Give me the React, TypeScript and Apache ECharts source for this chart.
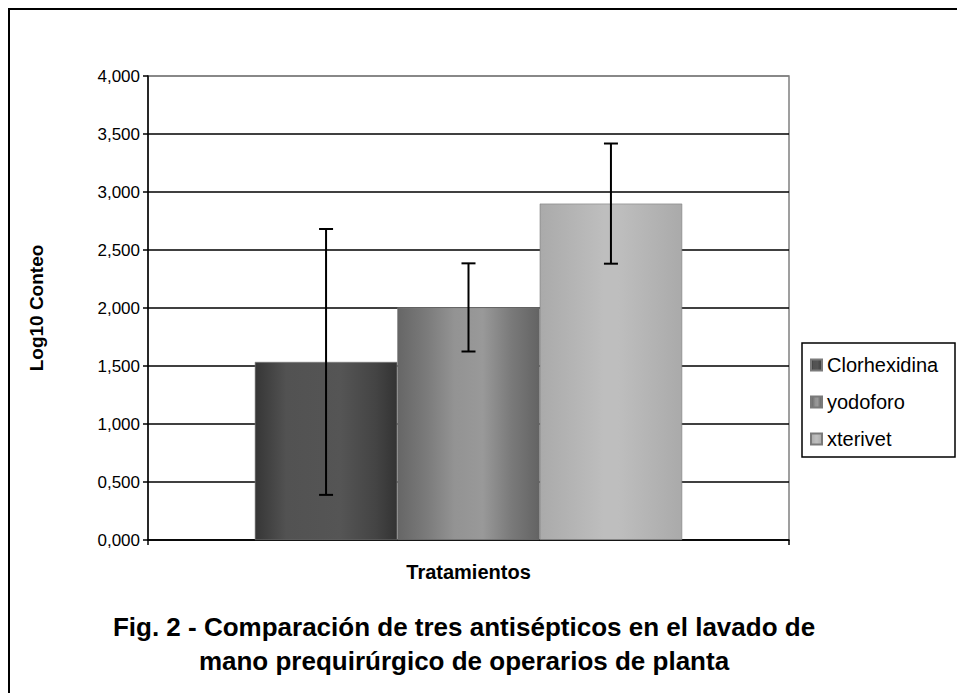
import React, { useEffect, useRef } from "react";
import * as echarts from "echarts";

const categories = [""];
const seriesNames = ["Clorhexidina", "yodoforo", "xterivet"];
const means = [1.535, 2.005, 2.9];
const errors = [1.146, 0.38, 0.518];
const yTicks = { min: 0, max: 4, interval: 0.5 };
const titleLines = [
  "Fig. 2 - Comparación de tres antisépticos en el lavado de",
  "mano prequirúrgico de operarios de planta",
];

const FONT = '"Liberation Sans", Arial, Helvetica, sans-serif';

const gradients = [
  [
    [0, "#363636"],
    [0.22, "#525252"],
    [0.6, "#555555"],
    [0.85, "#444444"],
    [1, "#333333"],
  ],
  [
    [0, "#666666"],
    [0.2, "#7a7a7a"],
    [0.4, "#939393"],
    [0.6, "#999999"],
    [0.8, "#7a7a7a"],
    [1, "#636363"],
  ],
  [
    [0, "#aaaaaa"],
    [0.45, "#bebebe"],
    [0.55, "#bebebe"],
    [1, "#aaaaaa"],
  ],
];

function grad(i: number) {
  return new echarts.graphic.LinearGradient(
    0,
    0,
    1,
    0,
    gradients[i].map(([offset, color]) => ({ offset: offset as number, color: color as string }))
  );
}

export default function App() {
  const ref = useRef<HTMLDivElement>(null);
  useEffect(() => {
    if (!ref.current) return;
    const chart = echarts.init(ref.current, undefined, { renderer: "svg" });
    const n = seriesNames.length;
    const errData = seriesNames.map((_, i) => [0, means[i] - errors[i], means[i] + errors[i], i]);
    const splitColors = ["#000", "#000", "#000", "#000", "#000", "#000", "#000", "#000", "#808080"];
    const option: any = {
      animation: false,
      backgroundColor: "#ffffff",
      textStyle: { fontFamily: FONT },
      title: {
        text: titleLines.join("\n"),
        left: 464,
        top: 610,
        padding: 0,
        textAlign: "center",
        textStyle: {
          fontFamily: FONT,
          fontSize: 26,
          fontWeight: "bold",
          color: "#000",
          lineHeight: 34,
        },
      },
      legend: {
        data: seriesNames,
        orient: "vertical",
        left: 810,
        top: 355,
        padding: 0,
        itemWidth: 11,
        itemHeight: 11,
        itemGap: 17,
        icon: "rect",
        textStyle: { fontFamily: FONT, fontSize: 20, color: "#000" },
      },
      grid: {
        left: 148,
        top: 76,
        right: 957 - 789,
        bottom: 693 - 540,
        show: true,
        borderColor: "#808080",
        borderWidth: 1.5,
        backgroundColor: "transparent",
      },
      xAxis: {
        type: "category",
        data: categories,
        name: "Tratamientos",
        nameLocation: "middle",
        nameGap: 22,
        nameTextStyle: { fontFamily: FONT, fontSize: 20, fontWeight: "bold", color: "#000" },
        axisLine: { lineStyle: { color: "#000", width: 1.5 } },
        axisTick: { show: true, length: 5, alignWithLabel: false, lineStyle: { color: "#000", width: 1.5 } },
        axisLabel: { show: false },
        splitLine: { show: false },
      },
      yAxis: {
        type: "value",
        min: yTicks.min,
        max: yTicks.max,
        interval: yTicks.interval,
        name: "Log10 Conteo",
        nameLocation: "middle",
        nameRotate: 90,
        nameGap: 102,
        nameTextStyle: { fontFamily: FONT, fontSize: 19, fontWeight: "bold", color: "#000" },
        axisLine: { show: true, lineStyle: { color: "#000", width: 1.5 } },
        axisTick: { show: true, length: 5, inside: false, lineStyle: { color: "#000", width: 1.5 } },
        axisLabel: {
          margin: 8,
          fontFamily: FONT,
          fontSize: 17,
          color: "#000",
          formatter: (v: number) => v.toFixed(3).replace(".", ","),
        },
        splitLine: { show: true, lineStyle: { color: splitColors, width: 1.5 } },
      },
      graphic: [
        {
          type: "rect",
          shape: { x: 9, y: 9, width: 1000, height: 1000 },
          style: { fill: "none", stroke: "#000", lineWidth: 2 },
          silent: true,
          z: 100,
        },
        {
          type: "rect",
          shape: { x: 802, y: 343, width: 153, height: 114 },
          style: { fill: "none", stroke: "#000", lineWidth: 1.5 },
          silent: true,
          z: 100,
        },
      ],
      series: [
        ...seriesNames.map((name, i) => ({
          name,
          type: "bar",
          data: [means[i]],
          barGap: "0%",
          barCategoryGap: "33.3333%",
          itemStyle: { color: grad(i), borderColor: "#7a7a7a", borderWidth: 0.6 },
          z: 2,
        })),
        {
          name: "error",
          type: "custom",
          data: errData,
          z: 10,
          renderItem: (params: any, api: any) => {
            const cat = api.value(0);
            const lo = api.value(1);
            const hi = api.value(2);
            const idx = api.value(3);
            const band = api.size([1, 0])[0];
            const bw = (band * (1 - 1 / 3)) / n;
            const cx = api.coord([cat, 0])[0] + (idx - (n - 1) / 2) * bw;
            const yLo = api.coord([cat, lo])[1];
            const yHi = api.coord([cat, hi])[1];
            const hw = 7;
            const st = { stroke: "#000", lineWidth: 2 };
            return {
              type: "group",
              children: [
                { type: "line", shape: { x1: cx, y1: yLo, x2: cx, y2: yHi }, style: st },
                { type: "line", shape: { x1: cx - hw, y1: yHi, x2: cx + hw, y2: yHi }, style: st },
                { type: "line", shape: { x1: cx - hw, y1: yLo, x2: cx + hw, y2: yLo }, style: st },
              ],
            };
          },
        },
      ],
    };
    chart.setOption(option);
    return () => chart.dispose();
  }, []);
  return (
    <div
      ref={ref}
      style={{ position: "fixed", left: 0, top: 0, width: 957, height: 693, background: "#fff" }}
    />
  );
}
